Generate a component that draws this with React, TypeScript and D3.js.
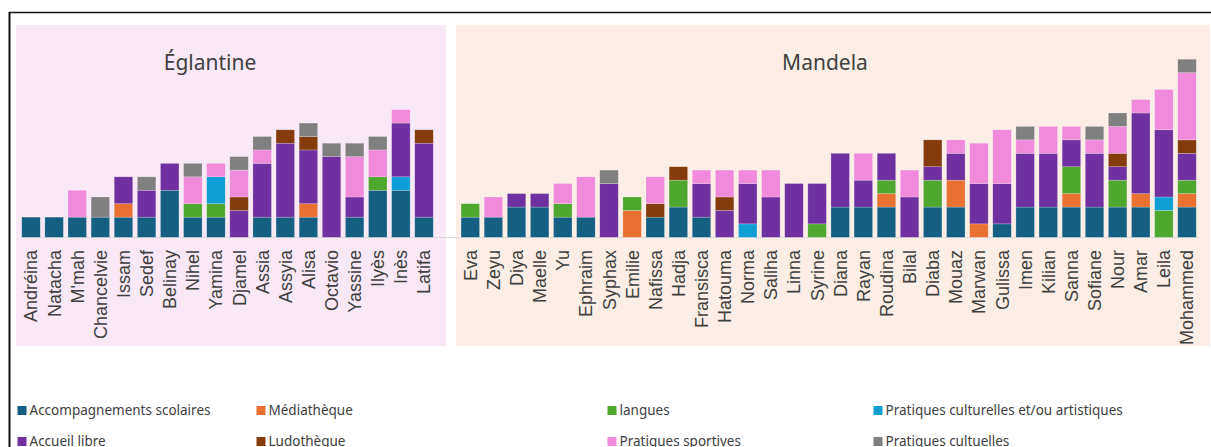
import React from 'react';
import * as d3 from 'd3';

// ---------- DATA ----------
const seriesNames = [
  'Accompagnements scolaires',
  'Médiathèque',
  'langues',
  'Pratiques culturelles et/ou artistiques',
  'Accueil libre',
  'Ludothèque',
  'Pratiques sportives',
  'Pratiques cultuelles',
];
const seriesColors = ['#156082', '#E97132', '#4EA72E', '#0F9ED5', '#7030A0', '#843C0C', '#F08BDB', '#808080'];
const legendOrder = [0, 4, 1, 5, 2, 6, 3, 7];

const eglantineNames = ['Andréina', 'Natacha', "M'mah", 'Chancelvie', 'Issam', 'Sedef', 'Belinay', 'Nihel', 'Yamina', 'Djamel', 'Assia', 'Assyia', 'Alisa', 'Octavio', 'Yassine', 'Ilyès', 'Inès', 'Latifa'];
const eglScolaires = [3, 3, 3, 3, 3, 3, 7, 3, 3, 0, 3, 3, 3, 0, 3, 7, 7, 3];
const eglMediatheque = [0, 0, 0, 0, 2, 0, 0, 0, 0, 0, 0, 0, 2, 0, 0, 0, 0, 0];
const eglLangues = [0, 0, 0, 0, 0, 0, 0, 2, 2, 0, 0, 0, 0, 0, 0, 2, 0, 0];
const eglArtistiques = [0, 0, 0, 0, 0, 0, 0, 0, 4, 0, 0, 0, 0, 0, 0, 0, 2, 0];
const eglAccueil = [0, 0, 0, 0, 4, 4, 4, 0, 0, 4, 8, 11, 8, 12, 3, 0, 8, 11];
const eglLudotheque = [0, 0, 0, 0, 0, 0, 0, 0, 0, 2, 0, 2, 2, 0, 0, 0, 0, 2];
const eglSportives = [0, 0, 4, 0, 0, 0, 0, 4, 2, 4, 2, 0, 0, 0, 6, 4, 2, 0];
const eglCultuelles = [0, 0, 0, 3, 0, 2, 0, 2, 0, 2, 2, 0, 2, 2, 2, 2, 0, 0];

const mandelaNames = ['Eva', 'Zeyu', 'Diya', 'Maelle', 'Yu', 'Ephraim', 'Syphax', 'Emilie', 'Nafissa', 'Hadja', 'Fransisca', 'Hatouma', 'Norma', 'Saliha', 'Linna', 'Syrine', 'Diana', 'Rayan', 'Roudina', 'Bilal', 'Diaba', 'Mouaz', 'Marwan', 'Gulissa', 'Imen', 'Kilian', 'Sanna', 'Sofiane', 'Nour', 'Amar', 'Leila', 'Mohammed'];
const manScolaires = [3, 3, 4.5, 4.5, 3, 3, 0, 0, 3, 4.5, 3, 0, 0, 0, 0, 0, 4.5, 4.5, 4.5, 0, 4.5, 4.5, 0, 2, 4.5, 4.5, 4.5, 4.5, 4.5, 4.5, 0, 4.5];
const manMediatheque = [0, 0, 0, 0, 0, 0, 0, 4, 0, 0, 0, 0, 0, 0, 0, 0, 0, 0, 2, 0, 0, 4, 2, 0, 0, 0, 2, 0, 0, 2, 0, 2];
const manLangues = [2, 0, 0, 0, 2, 0, 0, 2, 0, 4, 0, 0, 0, 0, 0, 2, 0, 0, 2, 0, 4, 0, 0, 0, 0, 0, 4, 0, 4, 0, 4, 2];
const manArtistiques = [0, 0, 0, 0, 0, 0, 0, 0, 0, 0, 0, 0, 2, 0, 0, 0, 0, 0, 0, 0, 0, 0, 0, 0, 0, 0, 0, 0, 0, 0, 2, 0];
const manAccueil = [0, 0, 2, 2, 0, 0, 8, 0, 0, 0, 5, 4, 6, 6, 8, 6, 8, 4, 4, 6, 2, 4, 6, 6, 8, 8, 4, 8, 2, 12, 10, 4];
const manLudotheque = [0, 0, 0, 0, 0, 0, 0, 0, 2, 2, 0, 2, 0, 0, 0, 0, 0, 0, 0, 0, 4, 0, 0, 0, 0, 0, 0, 0, 2, 0, 0, 2];
const manSportives = [0, 3, 0, 0, 3, 6, 0, 0, 4, 0, 2, 4, 2, 4, 0, 0, 0, 4, 0, 4, 0, 2, 6, 8, 2, 4, 2, 2, 4, 2, 6, 10];
const manCultuelles = [0, 0, 0, 0, 0, 0, 2, 0, 0, 0, 0, 0, 0, 0, 0, 0, 0, 0, 0, 0, 0, 0, 0, 0, 2, 0, 0, 2, 2, 0, 0, 2];

const panels = [
  {
    title: 'Églantine',
    names: eglantineNames,
    series: [eglScolaires, eglMediatheque, eglLangues, eglArtistiques, eglAccueil, eglLudotheque, eglSportives, eglCultuelles],
    bg: '#F9E9F7',
    box: [16, 25, 446, 346],
    band: [19.44, 435.56],
    titleX: 210,
  },
  {
    title: 'Mandela',
    names: mandelaNames,
    series: [manScolaires, manMediatheque, manLangues, manArtistiques, manAccueil, manLudotheque, manSportives, manCultuelles],
    bg: '#FCEEE6',
    box: [456, 25, 1210, 346],
    band: [458.74, 1198.56],
    titleX: 825,
  },
];

const FONT_UI = "'Noto Sans', 'Open Sans', sans-serif";
const FONT_LABEL = "'Liberation Sans', Arial, sans-serif";

export default function App() {
  const y = d3.scaleLinear().domain([0, 30]).range([237.3, 237.3 - 30 * 6.72]);

  return (
    <svg width={1211} height={447} style={{ position: 'absolute', left: 0, top: 0, background: '#fff' }}>
      {/* frame */}
      <line x1={9.5} y1={12} x2={9.5} y2={447} stroke="#111" strokeWidth={2} />
      <line x1={9} y1={12.5} x2={1211} y2={12.5} stroke="#111" strokeWidth={1.6} />
      {panels.map((p) => {
        const x = d3.scaleBand<string>().domain(p.names).range(p.band as [number, number]).paddingInner(0.2).paddingOuter(0.1);
        const rows = p.names.map((n, i) => {
          const r: any = { name: n };
          seriesNames.forEach((s, k) => (r[s] = p.series[k][i]));
          return r;
        });
        const stacked = d3.stack<any>().keys(seriesNames)(rows);
        const [x0, y0, x1, y1] = p.box;
        return (
          <g key={p.title}>
            <rect x={x0} y={y0} width={x1 - x0} height={y1 - y0} fill={p.bg} />
            <text x={p.titleX} y={70} textAnchor="middle" fontFamily={FONT_UI} fontSize={21} fill="#404040">
              {p.title}
            </text>
          </g>
        );
      })}
      <line x1={21} x2={1199} y1={237.5} y2={237.5} stroke="#D9D9D9" strokeWidth={1} />
      {panels.map((p) => {
        const x = d3.scaleBand<string>().domain(p.names).range(p.band as [number, number]).paddingInner(0.2).paddingOuter(0.1);
        const rows = p.names.map((n, i) => {
          const r: any = { name: n };
          seriesNames.forEach((s, k) => (r[s] = p.series[k][i]));
          return r;
        });
        const stacked = d3.stack<any>().keys(seriesNames)(rows);
        return (
          <g key={p.title + '-bars'}>
            {stacked.map((layer, k) => (
              <g key={layer.key} fill={seriesColors[k]}>
                {layer.map((d, i) =>
                  d[1] - d[0] > 0 ? (
                    <rect
                      key={i}
                      x={x(p.names[i])}
                      y={y(d[1])}
                      width={x.bandwidth()}
                      height={y(d[0]) - y(d[1])}
                      stroke="#ffffff"
                      strokeOpacity={0.35}
                      strokeWidth={0.6}
                    />
                  ) : null
                )}
              </g>
            ))}
            {p.names.map((n) => (
              <text
                key={n}
                transform={`translate(${(x(n) as number) + x.bandwidth() / 2},250) rotate(-90)`}
                dy="0.36em"
                textAnchor="end"
                fontFamily={FONT_LABEL}
                fontSize={18}
                fill="#404040"
              >
                {n}
              </text>
            ))}
          </g>
        );
      })}
      {/* legend */}
      {legendOrder.map((k, j) => {
        const col = j >> 1;
        const row = j % 2;
        const sx = [17.5, 256.5, 607.5, 873.5][col];
        const sy = [406, 437][row];
        return (
          <g key={seriesNames[k]}>
            <rect x={sx} y={sy} width={9} height={9} fill={seriesColors[k]} />
            <text x={sx + 12} y={sy + 4.5} dy="0.35em" fontFamily={FONT_UI} fontSize={13.5} fill="#404040">
              {seriesNames[k]}
            </text>
          </g>
        );
      })}
    </svg>
  );
}
